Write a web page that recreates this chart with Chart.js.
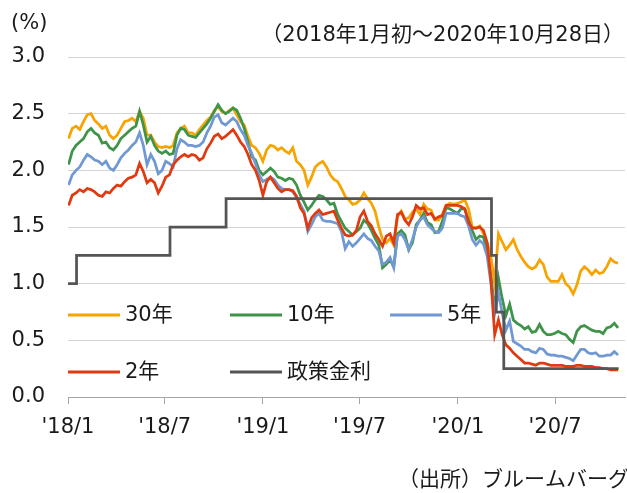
<!DOCTYPE html>
<html>
<head>
<meta charset="utf-8">
<script src="https://cdn.jsdelivr.net/npm/chart.js@4.4.1/dist/chart.umd.min.js"></script>
<style>
  html, body { margin: 0; padding: 0; background: #fff; }
  #wrap { width: 627px; height: 493px; }
</style>
</head>
<body>
<div id="wrap"><canvas id="yieldChart" width="627" height="493"></canvas></div>
<script>
const FONT = "'DejaVu Sans', 'Noto Sans CJK JP', sans-serif";

// x axis: days since 2018-01-01
const tickDays = [0, 181, 365, 546, 730, 912];
const tickLabels = ["'18/1", "'18/7", "'19/1", "'19/7", "'20/1", "'20/7"];

// weekly yields (%), first sample 2018-01-02
const y30 = [
  2.28, 2.37, 2.39, 2.36, 2.43, 2.49, 2.50, 2.44, 2.41, 2.37, 2.39, 2.31, 2.28, 2.31, 2.37, 2.43, 2.44, 2.46, 2.43, 2.52,
  2.46, 2.31, 2.31, 2.25, 2.21, 2.20, 2.21, 2.20, 2.22, 2.33, 2.37, 2.39, 2.33, 2.33, 2.31,
  2.36, 2.40, 2.44, 2.47, 2.53, 2.56, 2.52, 2.50, 2.53, 2.55, 2.49, 2.43, 2.40, 2.30, 2.22, 2.20, 2.15, 2.08, 2.18, 2.22,
  2.21, 2.18, 2.20, 2.17, 2.15, 2.20, 2.08, 2.05, 2.00, 1.87, 1.94, 2.03, 2.06, 2.08, 2.03, 1.96, 1.92,
  1.90, 1.84, 1.77, 1.74, 1.70, 1.71, 1.74, 1.80, 1.75, 1.71, 1.64, 1.50, 1.39, 1.36, 1.40, 1.34, 1.59, 1.64, 1.57, 1.58,
  1.63, 1.66, 1.61, 1.70, 1.66, 1.65, 1.56, 1.56, 1.61, 1.69, 1.71, 1.70, 1.71, 1.72, 1.74, 1.66,
  1.50, 1.49, 1.51, 1.44, 1.36, 1.24, 1.00, 1.44, 1.37, 1.30, 1.34, 1.39, 1.30, 1.24, 1.19, 1.15, 1.13, 1.15, 1.21, 1.17,
  1.06, 1.02, 1.02, 1.02, 1.08, 1.00, 0.97, 0.91, 0.99, 1.11, 1.15, 1.12, 1.08, 1.12, 1.09, 1.10, 1.15, 1.22, 1.19, 1.18
];
const y10 = [
  2.05, 2.17, 2.22, 2.25, 2.28, 2.34, 2.37, 2.33, 2.31, 2.24, 2.25, 2.20, 2.18, 2.22, 2.28, 2.31, 2.34, 2.37, 2.39, 2.52,
  2.40, 2.25, 2.30, 2.22, 2.17, 2.15, 2.17, 2.14, 2.15, 2.31, 2.37, 2.36, 2.31, 2.30, 2.29,
  2.33, 2.37, 2.41, 2.46, 2.52, 2.58, 2.53, 2.50, 2.52, 2.55, 2.53, 2.46, 2.37, 2.25, 2.12, 2.09, 2.00, 1.96, 1.99, 2.02,
  1.99, 1.94, 1.93, 1.91, 1.93, 1.92, 1.87, 1.78, 1.72, 1.65, 1.69, 1.74, 1.78, 1.77, 1.74, 1.70, 1.71,
  1.61, 1.55, 1.49, 1.46, 1.43, 1.46, 1.49, 1.56, 1.53, 1.47, 1.40, 1.34, 1.14, 1.17, 1.21, 1.15, 1.44, 1.47, 1.43, 1.30,
  1.36, 1.52, 1.56, 1.62, 1.54, 1.52, 1.45, 1.46, 1.55, 1.67, 1.66, 1.64, 1.62, 1.66, 1.66, 1.56,
  1.47, 1.39, 1.42, 1.41, 1.28, 1.06, 0.78, 1.05, 0.87, 0.72, 0.82, 0.68, 0.65, 0.63, 0.60, 0.62, 0.57, 0.58, 0.64, 0.58,
  0.55, 0.55, 0.56, 0.58, 0.56, 0.55, 0.51, 0.48, 0.58, 0.62, 0.63, 0.61, 0.59, 0.58, 0.58, 0.56, 0.61, 0.62, 0.65, 0.61
];
const y5 = [
  1.87, 1.96, 2.00, 2.03, 2.09, 2.14, 2.12, 2.09, 2.08, 2.05, 2.08, 2.02, 2.00, 2.05, 2.11, 2.15, 2.18, 2.22, 2.25, 2.33,
  2.22, 2.05, 2.14, 2.08, 1.97, 2.00, 2.08, 2.06, 2.03, 2.19, 2.27, 2.25, 2.22, 2.22, 2.21,
  2.22, 2.25, 2.33, 2.39, 2.47, 2.49, 2.42, 2.40, 2.43, 2.46, 2.43, 2.36, 2.31, 2.22, 2.15, 2.06, 1.96, 1.90, 1.92, 1.94,
  1.92, 1.87, 1.84, 1.83, 1.83, 1.81, 1.76, 1.70, 1.64, 1.46, 1.52, 1.59, 1.62, 1.56, 1.55, 1.55, 1.54,
  1.53, 1.46, 1.31, 1.37, 1.33, 1.36, 1.40, 1.44, 1.40, 1.38, 1.33, 1.29, 1.17, 1.19, 1.23, 1.14, 1.42, 1.44, 1.39, 1.30,
  1.39, 1.50, 1.56, 1.59, 1.52, 1.49, 1.46, 1.45, 1.49, 1.62, 1.62, 1.62, 1.62, 1.60, 1.59, 1.51,
  1.39, 1.34, 1.38, 1.35, 1.24, 1.00, 0.74, 0.92, 0.74, 0.59, 0.67, 0.49, 0.47, 0.45, 0.42, 0.42, 0.40, 0.39, 0.43, 0.42,
  0.38, 0.37, 0.37, 0.36, 0.36, 0.35, 0.34, 0.32, 0.37, 0.42, 0.42, 0.39, 0.38, 0.39, 0.36, 0.36, 0.37, 0.37, 0.40, 0.37
];
const y2 = [
  1.69, 1.78, 1.80, 1.83, 1.81, 1.84, 1.83, 1.81, 1.78, 1.77, 1.81, 1.80, 1.84, 1.87, 1.86, 1.90, 1.93, 1.94, 1.96, 2.06,
  1.99, 1.89, 1.92, 1.89, 1.80, 1.86, 1.94, 1.96, 2.05, 2.09, 2.12, 2.14, 2.12, 2.14, 2.13,
  2.09, 2.11, 2.19, 2.24, 2.30, 2.32, 2.28, 2.30, 2.33, 2.36, 2.31, 2.25, 2.21, 2.14, 2.05, 2.00, 1.91, 1.78, 1.90, 1.94,
  1.89, 1.84, 1.81, 1.83, 1.83, 1.82, 1.77, 1.67, 1.62, 1.49, 1.58, 1.62, 1.65, 1.61, 1.62, 1.63, 1.64,
  1.56, 1.49, 1.43, 1.42, 1.43, 1.47, 1.59, 1.64, 1.55, 1.51, 1.44, 1.39, 1.33, 1.42, 1.44, 1.36, 1.61, 1.63, 1.56, 1.52,
  1.59, 1.69, 1.66, 1.67, 1.61, 1.62, 1.57, 1.59, 1.60, 1.69, 1.69, 1.69, 1.69, 1.68, 1.66, 1.54,
  1.49, 1.49, 1.50, 1.47, 1.36, 1.03, 0.55, 0.68, 0.55, 0.46, 0.43, 0.39, 0.36, 0.33, 0.30, 0.30, 0.29, 0.28, 0.30, 0.30,
  0.29, 0.28, 0.28, 0.28, 0.28, 0.27, 0.27, 0.27, 0.28, 0.28, 0.27, 0.27, 0.27, 0.26, 0.26, 0.25, 0.25, 0.24, 0.24, 0.24
];

// policy rate: change day and new level
const policyDays = [0, 16, 191, 296, 793, 802, 816, 1031];
const policyRate = [1.00, 1.25, 1.50, 1.75, 1.25, 0.75, 0.25, 0.25];

const weekDays = y30.map((_, i) => 1 + 7 * i);
const toPoints = (xs, ys) => ys.map((v, i) => ({ x: xs[i], y: v }));

const series = [
  { label: '30年', data: y30, color: '#F7A400', order: 4 },
  { label: '10年', data: y10, color: '#3F944A', order: 3 },
  { label: '5年', data: y5, color: '#7098D2', order: 2 },
  { label: '2年', data: y2, color: '#DF3A10', order: 1 }
];

const datasets = series.map(s => ({
  label: s.label,
  data: toPoints(weekDays, s.data),
  borderColor: s.color,
  backgroundColor: s.color,
  borderWidth: 2.75,
  pointRadius: 0,
  tension: 0,
  order: s.order
}));
datasets.push({
  label: '政策金利',
  data: toPoints(policyDays, policyRate),
  borderColor: '#555555',
  backgroundColor: '#555555',
  borderWidth: 2.75,
  pointRadius: 0,
  stepped: 'before',
  order: 0
});

// legend grid inside the plot + header/footer texts
const legendPos = [
  { x: 68, y: 315 }, { x: 230, y: 315 }, { x: 390, y: 315 },
  { x: 68, y: 372 }, { x: 230, y: 372 }
];
const extras = {
  id: 'extras',
  afterDraw(chart) {
    const ctx = chart.ctx;
    ctx.save();
    ctx.font = '21px ' + FONT;
    ctx.fillStyle = '#1a1a1a';
    ctx.textBaseline = 'middle';
    ctx.textAlign = 'left';
    ctx.fillText('(%)', 11, 24);
    ctx.fillText('（出所）ブルームバーグ', 398, 481);
    ctx.textAlign = 'right';
    ctx.fillText('（2018年1月初～2020年10月28日）', 624, 36);
    ctx.textAlign = 'left';
    chart.data.datasets.forEach((ds, i) => {
      const p = legendPos[i];
      ctx.strokeStyle = ds.borderColor;
      ctx.lineWidth = 3;
      ctx.beginPath();
      ctx.moveTo(p.x, p.y);
      ctx.lineTo(p.x + 52, p.y);
      ctx.stroke();
      ctx.fillText(ds.label, p.x + 57, p.y + 1);
    });
    ctx.restore();
  }
};

new Chart(document.getElementById('yieldChart'), {
  type: 'line',
  data: { datasets: datasets },
  options: {
    responsive: false,
    animation: false,
    layout: { padding: { top: 57, right: 2, left: 0, bottom: 0 } },
    plugins: {
      legend: { display: false },
      tooltip: { enabled: false }
    },
    scales: {
      x: {
        type: 'linear',
        min: 0,
        max: 1043,
        afterBuildTicks: axis => { axis.ticks = tickDays.map(v => ({ value: v })); },
        afterFit: axis => { axis.height = 96; },
        ticks: {
          autoSkip: false,
          maxRotation: 0,
          padding: 11,
          color: '#1a1a1a',
          font: { family: FONT, size: 21 },
          callback: v => tickLabels[tickDays.indexOf(v)]
        },
        grid: { drawOnChartArea: false, drawTicks: true, tickLength: 7, color: '#a6a6a6' },
        border: { color: '#a6a6a6', width: 1 }
      },
      y: {
        min: 0,
        max: 3,
        afterFit: axis => { axis.width = 68; },
        ticks: {
          stepSize: 0.5,
          padding: 23,
          color: '#1a1a1a',
          font: { family: FONT, size: 21 },
          callback: v => v.toFixed(1)
        },
        grid: { color: '#d4d4d4', drawTicks: false },
        border: { display: false }
      }
    }
  },
  plugins: [extras]
});
</script>
</body>
</html>
